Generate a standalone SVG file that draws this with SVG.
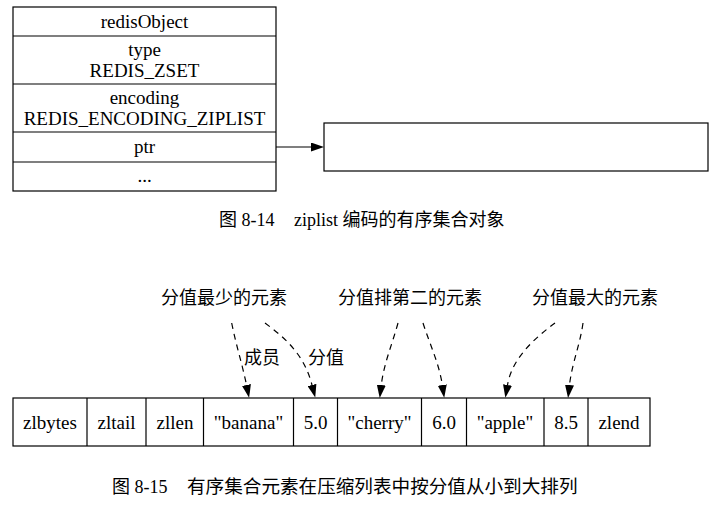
<svg xmlns="http://www.w3.org/2000/svg" width="717" height="512" viewBox="0 0 717 512">
<style>
.box{fill:#fff;stroke:#000;stroke-width:1.2}
.ln{stroke:#000;stroke-width:1.2;fill:none}
.t{font-family:"Liberation Serif","Noto Sans CJK SC",serif;font-size:19px;fill:#000;text-anchor:middle}
.c{font-family:"Noto Sans CJK SC",sans-serif;font-size:18px;fill:#000;text-anchor:middle}
.cap{font-family:"Liberation Serif","Noto Sans CJK SC",serif;font-size:18px;fill:#000}
.dash{stroke:#000;stroke-width:1.2;fill:none;stroke-dasharray:6,5}
</style>
<defs>
<marker id="ah" viewBox="0 0 13 9" markerWidth="13" markerHeight="9" refX="0" refY="4.5" orient="auto" markerUnits="userSpaceOnUse"><path d="M0,0 L13,4.5 L0,9 z" fill="#000"/></marker>
</defs>
<g id="redisObject">
<rect class="box" x="13" y="7" width="263" height="184"/>
<line class="ln" x1="13" y1="36" x2="276" y2="36"/>
<line class="ln" x1="13" y1="84" x2="276" y2="84"/>
<line class="ln" x1="13" y1="132" x2="276" y2="132"/>
<line class="ln" x1="13" y1="162" x2="276" y2="162"/>
<text class="t" x="144.5" y="28">redisObject</text>
<text class="t" x="144.5" y="56">type</text>
<text class="t" x="144.5" y="77">REDIS_ZSET</text>
<text class="t" x="144.5" y="104">encoding</text>
<text class="t" x="144.5" y="125">REDIS_ENCODING_ZIPLIST</text>
<text class="t" x="144.5" y="153">ptr</text>
<text class="t" x="144.5" y="182">...</text>
</g>
<g id="ziplist">
<rect class="box" x="324" y="123" width="384" height="48"/>
</g>
<g id="caption1">
<text class="cap" x="219" y="226">图 8-14<tspan x="294">ziplist 编码的有序集合对象</tspan></text>
</g>
<g id="labels">
<text class="c" x="224" y="304">分值最少的元素</text>
<text class="c" x="410" y="304">分值排第二的元素</text>
<text class="c" x="595" y="304">分值最大的元素</text>
<text class="c" x="262" y="364">成员</text>
<text class="c" x="326" y="364">分值</text>
</g>
<g id="list">
<rect class="box" x="13" y="398" width="637" height="48"/>
<line class="ln" x1="87" y1="398" x2="87" y2="446"/>
<line class="ln" x1="146" y1="398" x2="146" y2="446"/>
<line class="ln" x1="203.5" y1="398" x2="203.5" y2="446"/>
<line class="ln" x1="293.5" y1="398" x2="293.5" y2="446"/>
<line class="ln" x1="337.5" y1="398" x2="337.5" y2="446"/>
<line class="ln" x1="421.5" y1="398" x2="421.5" y2="446"/>
<line class="ln" x1="466.5" y1="398" x2="466.5" y2="446"/>
<line class="ln" x1="544" y1="398" x2="544" y2="446"/>
<line class="ln" x1="588" y1="398" x2="588" y2="446"/>
<text class="t" x="50" y="429">zlbytes</text>
<text class="t" x="116.5" y="429">zltail</text>
<text class="t" x="175" y="429">zllen</text>
<text class="t" x="248.5" y="429">"banana"</text>
<text class="t" x="315.5" y="429">5.0</text>
<text class="t" x="379.5" y="429">"cherry"</text>
<text class="t" x="444" y="429">6.0</text>
<text class="t" x="505" y="429">"apple"</text>
<text class="t" x="566" y="429">8.5</text>
<text class="t" x="619" y="429">zlend</text>
</g>
<g id="connectors">
<line class="ln" x1="276" y1="147" x2="311" y2="147" marker-end="url(#ah)"/>
<path class="dash" d="M231.7,323 C236,345 242,363 246.5,385" marker-end="url(#ah)"/>
<path class="dash" d="M265,323 C285,338 304,354 312,385" marker-end="url(#ah)"/>
<path class="dash" d="M398,323 C392,345 384,363 381.3,385" marker-end="url(#ah)"/>
<path class="dash" d="M423,323 C430,345 439,363 442.3,385" marker-end="url(#ah)"/>
<path class="dash" d="M555,323 C535,338 512,358 507.5,385" marker-end="url(#ah)"/>
<path class="dash" d="M583,323 C580,345 572,363 569.5,385" marker-end="url(#ah)"/>
</g>
<g id="caption2">
<text class="cap" x="112" y="493">图 8-15<tspan x="187" style="font-size:18.6px">有序集合元素在压缩列表中按分值从小到大排列</tspan></text>
</g>
</svg>
